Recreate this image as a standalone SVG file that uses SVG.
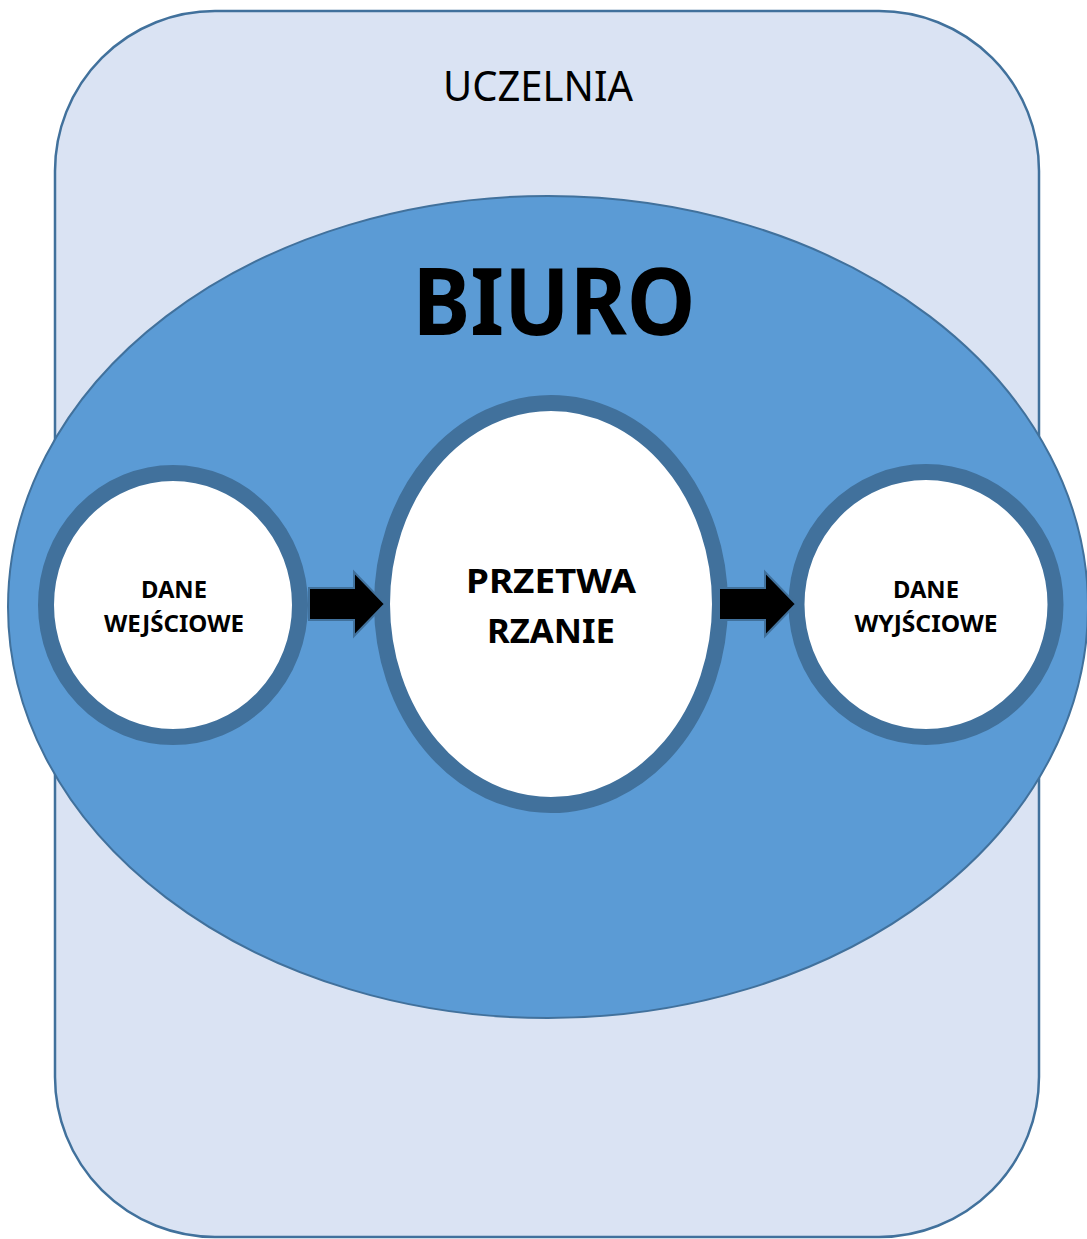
<svg xmlns="http://www.w3.org/2000/svg" width="1087" height="1239" viewBox="0 0 1087 1239">
<style>
.t{font-family:"Noto Sans","Liberation Sans",sans-serif;fill:#000;text-anchor:middle}
.b{font-weight:bold}
.ring{fill:#fff;stroke:#41719c;stroke-width:16}
.arrow{fill:#000;stroke:#41719c;stroke-width:2;stroke-linejoin:miter}
</style>
<rect width="1087" height="1239" fill="#fff"/>
<g id="uczelnia">
<rect x="55" y="11" width="984" height="1226" rx="160" ry="160" fill="#dae3f3" stroke="#41719c" stroke-width="2.5"/>
<text class="t" x="538" y="101" font-size="41" textLength="190" lengthAdjust="spacingAndGlyphs">UCZELNIA</text>
</g>
<g id="biuro">
<ellipse cx="548" cy="607" rx="540" ry="411" fill="#5b9bd5" stroke="#41719c" stroke-width="2"/>
<text class="t b" x="554" y="335" font-size="94" textLength="283" lengthAdjust="spacingAndGlyphs">BIURO</text>
</g>
<g id="dane-wejsciowe">
<ellipse class="ring" cx="173" cy="605" rx="127" ry="132"/>
<text class="t b" x="174" y="598" font-size="23" textLength="66" lengthAdjust="spacingAndGlyphs">DANE</text>
<text class="t b" x="174" y="632" font-size="23" textLength="140" lengthAdjust="spacingAndGlyphs">WEJŚCIOWE</text>
</g>
<g id="przetwarzanie">
<ellipse class="ring" cx="551" cy="604" rx="169" ry="201"/>
<text class="t b" x="551" y="593" font-size="34" textLength="170" lengthAdjust="spacingAndGlyphs">PRZETWA</text>
<text class="t b" x="551" y="643" font-size="34" textLength="128" lengthAdjust="spacingAndGlyphs">RZANIE</text>
</g>
<g id="dane-wyjsciowe">
<ellipse class="ring" cx="926" cy="604.5" rx="129.5" ry="132.5"/>
<text class="t b" x="926" y="598" font-size="23" textLength="66" lengthAdjust="spacingAndGlyphs">DANE</text>
<text class="t b" x="926" y="632" font-size="23" textLength="143" lengthAdjust="spacingAndGlyphs">WYJŚCIOWE</text>
</g>
<g id="connectors">
<polygon class="arrow" points="309,588 354,588 354,572 385,604 354,636 354,620 309,620"/>
<polygon class="arrow" points="719,588 765,588 765,572 796,604 765,636 765,620 719,620"/>
</g>
</svg>
